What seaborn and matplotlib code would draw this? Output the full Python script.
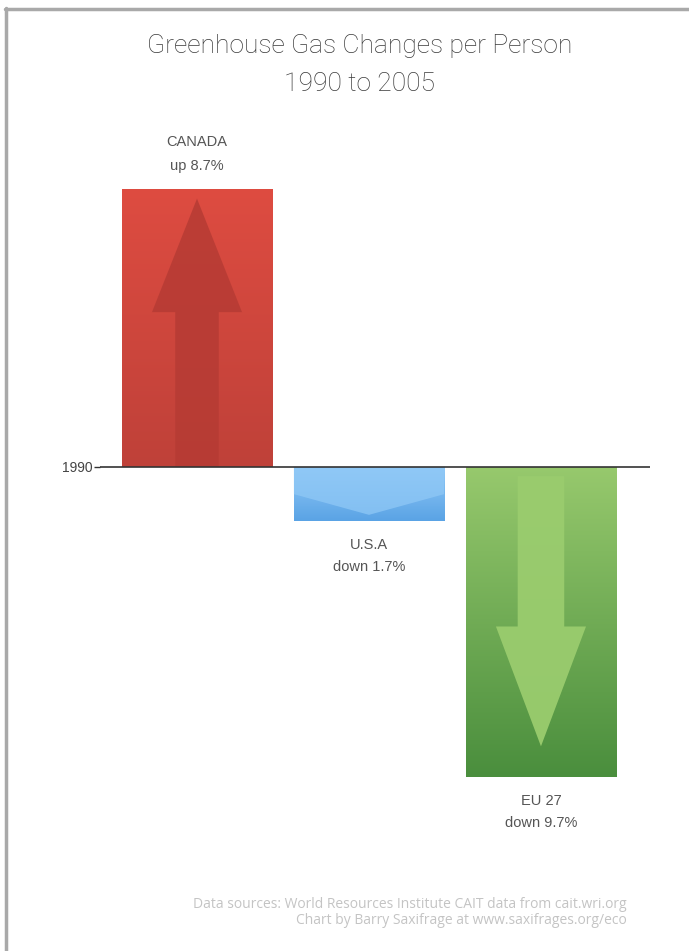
import numpy as np
import matplotlib
matplotlib.use("Agg")
import matplotlib.pyplot as plt
import seaborn as sns
from matplotlib.colors import LinearSegmentedColormap
from matplotlib.patches import Polygon
from matplotlib.lines import Line2D

# ---- data ----
countries = ["CANADA", "U.S.A", "EU 27"]
changes = [8.7, -1.7, -9.7]
baseline_label = "1990"
title_lines = ["Greenhouse Gas Changes per Person", "1990 to 2005"]
footer_lines = ["Data sources: World Resources Institute CAIT data from cait.wri.org",
                "Chart by Barry Saxifrage at www.saxifrages.org/eco"]

# ---- styling ----
top_colors = ["#de4c41", "#93cbf8", "#97c96d"]
bottom_colors = ["#bf4139", "#5aa3e5", "#4a8e3d"]
arrow_colors = ["#b63b34", "#8fc8f6", "#9acc6e"]

W, H = 689, 951
sns.set_theme(style="white")
plt.rcParams["font.family"] = ["Liberation Sans", "DejaVu Sans"]
fig = plt.figure(figsize=(W / 100, H / 100), dpi=100)
fig.patch.set_facecolor("white")

# axes: x from px 100 to 650, y from px 130 to 850
ax_left, ax_right, ax_top, ax_bot = 100, 650, 130, 850
ax = fig.add_axes([ax_left / W, 1 - ax_bot / H, (ax_right - ax_left) / W, (ax_bot - ax_top) / H])
ax.set_facecolor("none")

sns.barplot(x=countries, y=changes, hue=countries, palette=top_colors, legend=False,
            width=0.873, ax=ax, saturation=1, zorder=1)

ax.set_xlim(-0.564, 2.634)
ax.set_ylim(-11.97, 10.53)

for sp in ax.spines.values():
    sp.set_visible(False)
ax.set_xticks([])
ax.set_yticks([0])
ax.set_yticklabels([baseline_label])
ax.tick_params(axis="y", length=4, width=1, color="#333333", labelsize=10,
               labelcolor="#444444", pad=1, left=True)
ax.set_xlabel("")
ax.set_ylabel("")
ax.axhline(0, color="#333333", lw=1.2, zorder=5)

patches = list(ax.patches)
for i, p in enumerate(patches):
    x0, w = p.get_x(), p.get_width()
    y0, h = p.get_y(), p.get_height()
    ylo, yhi = min(y0, y0 + h), max(y0, y0 + h)
    cmap = LinearSegmentedColormap.from_list("g%d" % i, [bottom_colors[i], top_colors[i]])
    grad = np.linspace(0, 1, 256).reshape(-1, 1)
    im = ax.imshow(grad, cmap=cmap, extent=[x0, x0 + w, ylo, yhi], origin="lower",
                   aspect="auto", zorder=2, interpolation="bilinear")
    im.set_clip_path(p)
    p.set_edgecolor("none")
    xc = x0 + w / 2
    if i == 0:
        sw, hw = 0.29 * w, 0.60 * w
        pts = [(xc - sw / 2, 0), (xc - sw / 2, 0.556 * h), (xc - hw / 2, 0.556 * h),
               (xc, 0.964 * h), (xc + hw / 2, 0.556 * h), (xc + sw / 2, 0.556 * h),
               (xc + sw / 2, 0)]
        ax.add_patch(Polygon(pts, closed=True, facecolor=arrow_colors[i], edgecolor="none",
                             alpha=0.85, zorder=3))
    elif i == 2:
        sw, hw = 0.31 * w, 0.60 * w
        pts = [(xc - sw / 2, 0.03 * h), (xc - sw / 2, 0.514 * h), (xc - hw / 2, 0.514 * h),
               (xc, 0.90 * h), (xc + hw / 2, 0.514 * h), (xc + sw / 2, 0.514 * h),
               (xc + sw / 2, 0.03 * h)]
        ax.add_patch(Polygon(pts, closed=True, facecolor=arrow_colors[i], edgecolor="none",
                             alpha=0.95, zorder=3))
    else:
        pts = [(x0, 0), (x0 + w, 0), (x0 + w, 0.50 * h), (xc, 0.88 * h), (x0, 0.50 * h)]
        ax.add_patch(Polygon(pts, closed=True, facecolor=arrow_colors[i], edgecolor="none",
                             alpha=0.75, zorder=3))

    v = changes[i]
    word = "up" if v > 0 else "down"
    lines = [countries[i], "%s %.1f%%" % (word, abs(v))]
    px = 0.72  # points per pixel
    offs = [47, 23] if v > 0 else [-24, -46]
    for txt, off in zip(lines, offs):
        ax.annotate(txt, xy=(xc, y0 + h), xytext=(0, off * px), textcoords="offset points",
                    ha="center", va="center", fontsize=10.5, color="#555555",
                    annotation_clip=False)

# title
for txt, ypx in zip(title_lines, [46, 84]):
    fig.text(360 / W, 1 - ypx / H, txt, ha="center", va="center", fontsize=19,
             color="#3a3a3a", family=["Roboto", "DejaVu Sans"], fontweight="light")

# footer
for txt, ypx in zip(footer_lines, [905, 921]):
    fig.text(627 / W, 1 - ypx / H, txt, ha="right", va="center", fontsize=10,
             color="#c4c4c4", family=["Open Sans", "DejaVu Sans"])

# frame (top and left borders)
fig.add_artist(Line2D([6 / W, 6 / W], [0, 1 - 8 / H], transform=fig.transFigure,
                      color="#a9a9a9", lw=2.5))
fig.add_artist(Line2D([5 / W, 1], [1 - 9 / H, 1 - 9 / H], transform=fig.transFigure,
                      color="#a9a9a9", lw=2.5))

fig.savefig("out.png", dpi=100, facecolor="white")
